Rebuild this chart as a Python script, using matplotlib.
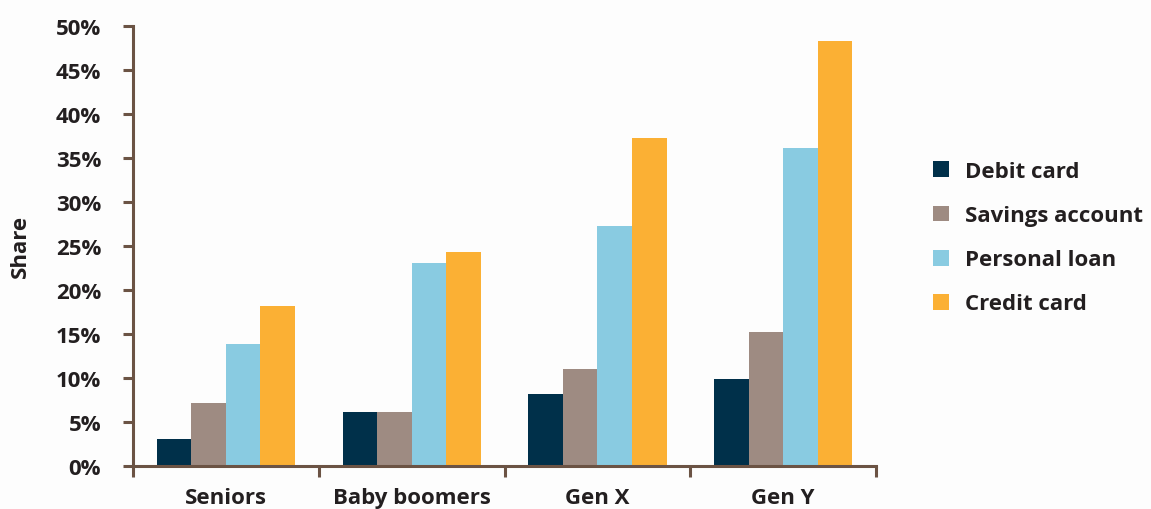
import matplotlib.pyplot as plt
import numpy as np

# share of each age group holding the product (%)
groups = ["Seniors", "Baby boomers", "Gen X", "Gen Y"]
products = ["Debit card", "Savings account", "Personal loan", "Credit card"]
debit_card = [3.0, 6.1, 8.1, 9.8]
savings_account = [7.1, 6.1, 11.0, 15.2]
personal_loan = [13.8, 23.0, 27.2, 36.1]
credit_card = [18.2, 24.3, 37.2, 48.3]

colors = ["#00304a", "#9e8b82", "#89cbe1", "#fbb034"]
axis_col = "#6b5344"
text_col = "#231f20"

plt.rcParams['font.family'] = ['Open Sans', 'DejaVu Sans']
plt.rcParams['font.weight'] = 'bold'

fig = plt.figure(figsize=(11.51, 5.10), dpi=100, facecolor="#fdfdfd")
ax = fig.add_axes([0.1156, 0.0849, 0.6455, 0.8627], facecolor="#fdfdfd")

x = np.arange(len(groups))
w = 0.186
series = [debit_card, savings_account, personal_loan, credit_card]
for i, (vals, name) in enumerate(zip(series, products)):
    ax.bar(x + (i - 1.5) * w, vals, width=w, color=colors[i], label=name, zorder=2)

ax.set_xlim(-0.5, len(groups) - 0.5)
ax.set_ylim(0, 50)

for s in ["top", "right"]:
    ax.spines[s].set_visible(False)
for s in ["left", "bottom"]:
    ax.spines[s].set_color(axis_col)
    ax.spines[s].set_linewidth(2.2)
    ax.spines[s].set_zorder(3)

ax.set_yticks(np.arange(0, 51, 5))
ax.set_yticklabels([f"{v}%" for v in range(0, 51, 5)])
ax.tick_params(axis="y", length=7, width=2.2, color=axis_col, pad=16,
               labelsize=16, labelcolor=text_col)

# boundaries get tick marks, group names sit between them
ax.set_xticks(np.arange(-0.5, len(groups), 1.0))
ax.set_xticklabels([])
ax.set_xticks(x, minor=True)
ax.set_xticklabels(groups, minor=True)
ax.tick_params(axis="x", which="major", length=8, width=2.2, color=axis_col)
ax.tick_params(axis="x", which="minor", length=0, pad=15, labelsize=16,
               labelcolor=text_col)

ax.set_ylabel("Share", fontsize=16, color=text_col, fontweight="bold", labelpad=18)

ax.legend(loc="center left", bbox_to_anchor=(1.05, 0.518), frameon=False,
          fontsize=16, labelcolor=text_col, handlelength=0.72, handleheight=0.72,
          handletextpad=0.72, labelspacing=1.04)

fig.savefig("out.png", dpi=100, facecolor=fig.get_facecolor())
